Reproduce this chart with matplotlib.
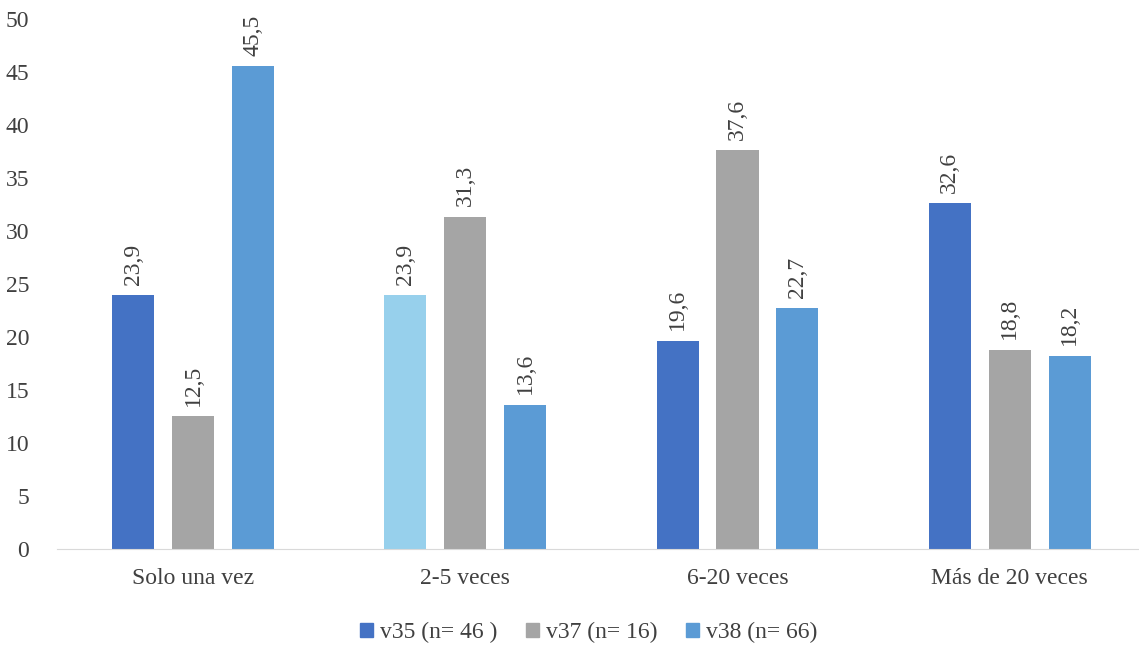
import numpy as np
import matplotlib.pyplot as plt
from matplotlib.patches import Patch

categorias = ["Solo una vez", "2-5 veces", "6-20 veces", "Más de 20 veces"]
series = ["v35 (n= 46 )", "v37 (n= 16)", "v38 (n= 66)"]
v35 = [23.9, 23.9, 19.6, 32.6]
v37 = [12.5, 31.3, 37.6, 18.8]
v38 = [45.5, 13.6, 22.7, 18.2]

plt.rcParams['font.family'] = ['Liberation Serif', 'DejaVu Serif']

colores = ['#4472C4', '#A5A5A5', '#5B9BD5']
# el primer valor de "2-5 veces" aparece en celeste en el original
colores_v35 = ['#4472C4', '#97D0EC', '#4472C4', '#4472C4']

fig = plt.figure(figsize=(11.39, 6.45), dpi=100)
ax = fig.add_axes([0.050, 0.149, 0.956, 0.822])

x = np.arange(len(categorias))
ancho = 0.155
paso = 0.22

datos = [v35, v37, v38]
for i, (valores, nombre) in enumerate(zip(datos, series)):
    col = colores_v35 if i == 0 else colores[i]
    barras = ax.bar(x + (i - 1) * paso, valores, ancho, color=col, label=nombre)
    for b, v in zip(barras, valores):
        ax.text(b.get_x() + b.get_width() / 2, v + 1.0, f"{v:.1f}".replace('.', ','),
                rotation=90, ha='center', va='bottom', fontsize=17, color='#404040')

ax.set_xlim(-0.5, 3.5)
ax.set_ylim(0, 50)
ax.set_yticks(range(0, 51, 5))
ax.set_xticks(x)
ax.set_xticklabels(categorias)
ax.tick_params(axis='both', length=0, labelsize=17, colors='#404040')
ax.tick_params(axis='x', pad=14)
ax.tick_params(axis='y', pad=20)
for lado in ['top', 'right', 'left']:
    ax.spines[lado].set_visible(False)
ax.spines['bottom'].set_color('#D9D9D9')

handles = [Patch(color=c) for c in colores]
fig.legend(handles, series, loc='lower center', bbox_to_anchor=(0.517, -0.03), ncol=3,
           frameon=False, fontsize=17, handlelength=0.55, handleheight=0.55,
           handletextpad=0.3, columnspacing=1.2, labelcolor='#404040')

fig.savefig('out.png', dpi=100)
